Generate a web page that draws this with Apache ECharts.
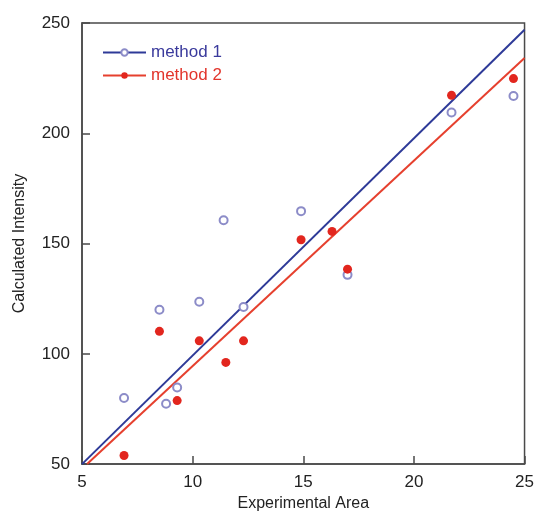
<!DOCTYPE html>
<html><head><meta charset="utf-8">
<script src="https://cdn.jsdelivr.net/npm/echarts@6/dist/echarts.min.js"></script>
<style>html,body{margin:0;padding:0;background:#fff}#c{width:537px;height:517px}</style>
</head><body><div id="c"></div>
<script>
var xTicks = [5, 10, 15, 20, 25];
var yTicks = [50, 100, 150, 200, 250];
var m1Points = [[6.9,80.0],[8.5,120.0],[8.8,77.4],[9.3,84.7],[10.3,123.6],[11.4,160.6],[12.3,121.2],[14.9,164.7],[17.0,135.8],[21.7,209.4],[24.5,216.9]];
var m2Points = [[6.9,53.9],[8.5,110.2],[9.3,78.8],[10.3,105.9],[11.5,96.1],[12.3,105.9],[14.9,151.7],[16.3,155.5],[17.0,138.4],[21.7,217.2],[24.5,224.8]];
var m1Fit = [[5.0,50.0],[25.0,246.9]];
var m2Fit = [[5.23,50.0],[25.0,234.1]];

var font = '"Liberation Sans", Arial, sans-serif';
var chart = echarts.init(document.getElementById('c'), null, {renderer:'canvas'});
chart.setOption({
  animation:false,
  backgroundColor:'#ffffff',
  grid:{left:82, top:23, width:444, height:445, show:true, borderColor:'#4a4a4a', borderWidth:1.5, backgroundColor:'transparent'},
  xAxis:{type:'value', min:xTicks[0], max:xTicks[xTicks.length-1], interval:5,
    name:'Experimental Area', nameLocation:'middle', nameGap:31,
    nameTextStyle:{fontFamily:font, fontSize:16, color:'#222'},
    axisLine:{show:true, lineStyle:{color:'#4a4a4a', width:1.5}},
    axisTick:{show:true, inside:true, length:8, lineStyle:{color:'#4a4a4a', width:1.5}},
    axisLabel:{fontFamily:font, fontSize:17, color:'#222', margin:10},
    splitLine:{show:false}},
  yAxis:{type:'value', min:yTicks[0], max:yTicks[yTicks.length-1], interval:50,
    name:'Calculated Intensity', nameLocation:'middle', nameGap:54,
    nameTextStyle:{fontFamily:font, fontSize:16, color:'#222'},
    axisLine:{show:true, lineStyle:{color:'#4a4a4a', width:1.5}},
    axisTick:{show:true, inside:true, length:8, lineStyle:{color:'#4a4a4a', width:1.5}},
    axisLabel:{fontFamily:font, fontSize:17, color:'#222', margin:12},
    splitLine:{show:false}},
  legend:{left:97, top:39, orient:'vertical', itemWidth:43, itemHeight:8, itemGap:6,
    textStyle:{fontFamily:font, fontSize:17},
    data:[{name:'method 1', textStyle:{color:'#3a3a9c'}},{name:'method 2', textStyle:{color:'#e2352c'}}]},
  series:[
    {name:'method 1', type:'line', data:m1Fit, symbol:'emptyCircle', symbolSize:6, showSymbol:false,
      itemStyle:{color:'#8c8cc8', borderColor:'#8c8cc8'}, lineStyle:{color:'#2e3a98', width:2}, z:2},
    {name:'method 2', type:'line', data:m2Fit, symbol:'circle', symbolSize:6, showSymbol:false,
      itemStyle:{color:'#e2261e'}, lineStyle:{color:'#e6402e', width:2}, z:2},
    {name:'method 1', type:'scatter', data:m1Points, symbol:'emptyCircle', symbolSize:8,
      itemStyle:{color:'#8c8cc8', borderColor:'#8c8cc8', borderWidth:1.5, opacity:1}, z:3},
    {name:'method 2', type:'scatter', data:m2Points, symbol:'circle', symbolSize:9,
      itemStyle:{color:'#e2261e', opacity:1}, z:4}
  ]
});
</script></body></html>
